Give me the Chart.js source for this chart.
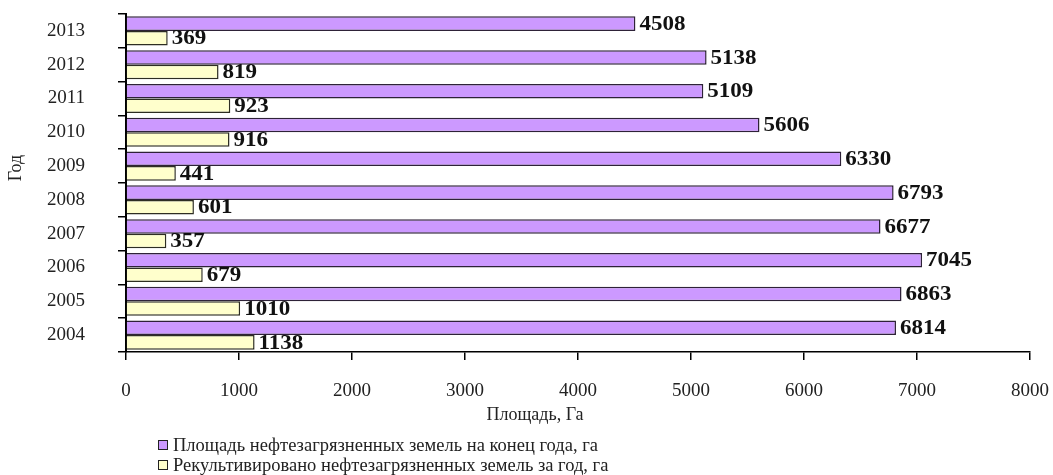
<!DOCTYPE html>
<html>
<head>
<meta charset="utf-8">
<script src="https://cdn.jsdelivr.net/npm/chart.js@4"></script>
<style>
  html, body { margin: 0; padding: 0; background: #ffffff; }
  #wrap { position: relative; width: 1053px; height: 475px; }
</style>
</head>
<body>
<div id="wrap"><canvas id="c" width="1053" height="475"></canvas></div>
<script>
const years = ['2013', '2012', '2011', '2010', '2009', '2008', '2007', '2006', '2005', '2004'];
const pollutedArea = [4508, 5138, 5109, 5606, 6330, 6793, 6677, 7045, 6863, 6814];
const recultivated = [369, 819, 923, 916, 441, 601, 357, 679, 1010, 1138];
const seriesNames = [
  'Площадь нефтезагрязненных земель на конец года, га',
  'Рекультивировано нефтезагрязненных земель за год, га'
];
const xTicks = [0, 1000, 2000, 3000, 4000, 5000, 6000, 7000, 8000];
const xTitle = 'Площадь, Га';
const yTitle = 'Год';

const SERIF = '"Liberation Serif", "Times New Roman", serif';

const extras = {
  id: 'extras',
  afterDatasetsDraw(chart) {
    const ctx = chart.ctx;
    ctx.save();
    // value labels
    ctx.font = 'bold 20px ' + SERIF;
    ctx.fillStyle = '#111';
    ctx.textAlign = 'left';
    ctx.textBaseline = 'middle';
    chart.data.datasets.forEach((ds, di) => {
      const meta = chart.getDatasetMeta(di);
      meta.data.forEach((bar, i) => {
        ctx.save();
        ctx.translate(bar.x + 4, bar.y + 1);
        ctx.scale(1.15, 1);
        ctx.fillText(String(ds.data[i]), 0, 0);
        ctx.restore();
      });
    });
    // axis titles
    ctx.font = '18px ' + SERIF;
    ctx.fillStyle = '#222';
    ctx.textAlign = 'center';
    ctx.textBaseline = 'middle';
    ctx.fillText(xTitle, 535, 415);
    ctx.save();
    ctx.translate(16, 168);
    ctx.rotate(-Math.PI / 2);
    ctx.fillText(yTitle, 0, 0);
    ctx.restore();
    // legend
    ctx.font = '18.5px ' + SERIF;
    ctx.textAlign = 'left';
    const rows = [445, 465];
    chart.data.datasets.forEach((ds, di) => {
      const cy = rows[di];
      ctx.fillStyle = ds.backgroundColor;
      ctx.fillRect(158, cy - 4.5, 9, 9);
      ctx.strokeStyle = '#222';
      ctx.lineWidth = 1;
      ctx.strokeRect(158.5, cy - 4.5, 9, 9);
      ctx.fillStyle = '#222';
      ctx.fillText(ds.label, 173, cy + 1);
    });
    ctx.restore();
  }
};

new Chart(document.getElementById('c'), {
  type: 'bar',
  data: {
    labels: years,
    datasets: [
      {
        label: seriesNames[0],
        data: pollutedArea,
        backgroundColor: '#CC99FF',
        borderColor: '#2E2238',
        borderWidth: 1.5,
        borderSkipped: 'start'
      },
      {
        label: seriesNames[1],
        data: recultivated,
        backgroundColor: '#FFFFCC',
        borderColor: '#2E2E22',
        borderWidth: 1.5,
        borderSkipped: 'start'
      }
    ]
  },
  options: {
    indexAxis: 'y',
    responsive: false,
    animation: false,
    events: [],
    layout: { padding: { top: 14, right: 23, left: 0, bottom: 0 } },
    datasets: { bar: { categoryPercentage: 0.86, barPercentage: 1.0 } },
    plugins: { legend: { display: false }, tooltip: { enabled: false } },
    scales: {
      x: {
        min: 0,
        max: 8000,
        afterBuildTicks: (s) => { s.ticks = xTicks.map(v => ({ value: v })); },
        afterFit: (s) => { s.height = 123; s.paddingLeft = 0; s.paddingRight = 0; },
        border: { display: true, color: '#000', width: 1.5 },
        grid: { drawOnChartArea: false, drawTicks: true, tickLength: 8, color: '#000', lineWidth: 1.5 },
        ticks: { padding: 20, color: '#222', font: { family: SERIF, size: 19 }, callback: (v) => String(v) }
      },
      y: {
        afterFit: (s) => { s.width = 126; s.paddingTop = 0; s.paddingBottom = 0; },
        border: { display: true, color: '#000', width: 2 },
        grid: { drawOnChartArea: false, drawTicks: true, tickLength: 8, color: '#000', lineWidth: 1.5, offset: true },
        ticks: { padding: 33, color: '#222', font: { family: SERIF, size: 19 } }
      }
    }
  },
  plugins: [extras]
});
</script>
</body>
</html>
